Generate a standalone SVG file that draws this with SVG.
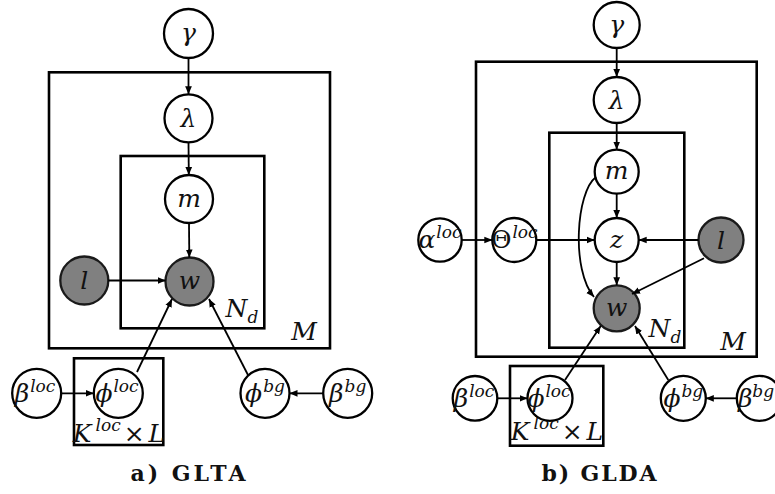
<svg xmlns="http://www.w3.org/2000/svg" width="775" height="494" viewBox="0 0 775 494">
<defs>
<marker id="ah" viewBox="0 0 10 10" refX="10" refY="5" markerWidth="8" markerHeight="8" orient="auto" markerUnits="userSpaceOnUse"><path d="M0,0.8 L10,5 L0,9.2 z" fill="#000"/></marker>
<style>
.n{fill:#fff;stroke:#000;stroke-width:2.3}
.o{fill:#808080;stroke:#1a1a1a;stroke-width:2.3}
.p{fill:none;stroke:#000;stroke-width:2.6}
.e{fill:none;stroke:#000;stroke-width:1.8;marker-end:url(#ah)}
.t{font-family:"DejaVu Serif","Liberation Serif",serif;font-style:italic;font-size:25px;fill:#111;text-anchor:middle}
.s{font-size:17px}
.up{font-style:normal}
.ti{font-family:"DejaVu Serif","Liberation Serif",serif;font-weight:bold;font-size:22px;fill:#111;text-anchor:middle}
</style>
</defs>

<!-- ===== Panel a) GLTA ===== -->
<g id="a-plates">
<rect class="p" x="49" y="72.3" width="281" height="276"/>
<rect class="p" x="120.7" y="156" width="143.6" height="172.3"/>
<rect class="p" x="74" y="358.3" width="89.3" height="86.7"/>
<text class="t" x="304" y="340">M</text>
<text class="t" x="242" y="316.7">N<tspan class="s" dy="6">d</tspan></text>
<text class="t" x="119" y="441.5">K<tspan class="s" dx="4" dy="-11">loc</tspan><tspan dx="3" dy="11" class="up">×</tspan><tspan dx="4">L</tspan></text>
</g>
<g id="a-gamma"><circle class="n" cx="188.5" cy="33.5" r="24.5"/><text class="t" x="188.5" y="41">γ</text></g>
<g id="a-lambda"><circle class="n" cx="188.5" cy="118.3" r="24"/><text class="t" x="188.5" y="127">λ</text></g>
<g id="a-m"><circle class="n" cx="189" cy="199" r="24"/><text class="t" x="189" y="206.5">m</text></g>
<g id="a-w"><circle class="o" cx="189.5" cy="281.5" r="24"/><text class="t" x="189.5" y="289">w</text></g>
<g id="a-l"><circle class="o" cx="84.3" cy="280.5" r="24"/><text class="t" x="84.3" y="289">l</text></g>
<g id="a-betaloc"><circle class="n" cx="36.7" cy="393.3" r="24.5"/><text class="t" x="35" y="402">β<tspan class="s" dx="1" dy="-10">loc</tspan></text></g>
<g id="a-philoc"><circle class="n" cx="118.3" cy="393.3" r="24.5"/><text class="t" x="117" y="402">ϕ<tspan class="s" dx="1" dy="-10">loc</tspan></text></g>
<g id="a-phibg"><circle class="n" cx="265" cy="393.3" r="24.5"/><text class="t" x="265" y="402">ϕ<tspan class="s" dx="1" dy="-10">bg</tspan></text></g>
<g id="a-betabg"><circle class="n" cx="347.7" cy="393.3" r="24.5"/><text class="t" x="347.7" y="402">β<tspan class="s" dx="1" dy="-10">bg</tspan></text></g>
<text class="ti" x="188" y="481" textLength="115" lengthAdjust="spacing">a) GLTA</text>

<g id="a-edges">
<line class="e" x1="188.5" y1="58" x2="188.5" y2="94.3"/>
<line class="e" x1="188.5" y1="142.3" x2="188.8" y2="175"/>
<line class="e" x1="189" y1="223" x2="189.3" y2="257.5"/>
<line class="e" x1="108.3" y1="280.5" x2="165.5" y2="280.5"/>
<line class="e" x1="137" y1="372" x2="172" y2="299"/>
<line class="e" x1="248" y1="375" x2="209" y2="299"/>
<line class="e" x1="61.2" y1="393.3" x2="93.8" y2="393.3"/>
<line class="e" x1="323.2" y1="393.3" x2="289.5" y2="393.3"/>
</g>

<!-- ===== Panel b) GLDA ===== -->
<g id="b-plates">
<rect class="p" x="476" y="61.7" width="280.7" height="295"/>
<rect class="p" x="549.3" y="132.7" width="135" height="215"/>
<rect class="p" x="510" y="366" width="93.3" height="79.7"/>
<text class="t" x="733" y="350">M</text>
<text class="t" x="665" y="336.7">N<tspan class="s" dy="6">d</tspan></text>
<text class="t" x="557" y="440">K<tspan class="s" dx="4" dy="-11">loc</tspan><tspan dx="3" dy="11" class="up">×</tspan><tspan dx="4">L</tspan></text>
</g>
<g id="b-gamma"><circle class="n" cx="616.7" cy="25" r="23"/><text class="t" x="616.7" y="32.5">γ</text></g>
<g id="b-lambda"><circle class="n" cx="616.7" cy="100" r="23"/><text class="t" x="616.7" y="108.5">λ</text></g>
<g id="b-m"><circle class="n" cx="616.7" cy="171.7" r="22"/><text class="t" x="616.7" y="179">m</text></g>
<g id="b-z"><circle class="n" cx="616.7" cy="240" r="22"/><text class="t" x="616.7" y="247.5">z</text></g>
<g id="b-w"><circle class="o" cx="616.7" cy="308.3" r="23"/><text class="t" x="616.7" y="316">w</text></g>
<g id="b-l"><circle class="o" cx="721" cy="240" r="22.5"/><text class="t" x="721" y="248.5">l</text></g>
<g id="b-alphaloc"><circle class="n" cx="440" cy="240" r="21.7"/><text class="t" x="440" y="248">α<tspan class="s" dx="1" dy="-10">loc</tspan></text></g>
<g id="b-thetaloc"><circle class="n" cx="514.3" cy="240" r="22"/><text class="t" x="514.3" y="248"><tspan class="up">Θ</tspan><tspan class="s" dx="1" dy="-10">loc</tspan></text></g>
<g id="b-betaloc"><circle class="n" cx="475" cy="398.3" r="22.3"/><text class="t" x="474" y="407">β<tspan class="s" dx="1" dy="-10">loc</tspan></text></g>
<g id="b-philoc"><circle class="n" cx="550" cy="398.3" r="22.5"/><text class="t" x="549" y="407">ϕ<tspan class="s" dx="1" dy="-10">loc</tspan></text></g>
<g id="b-phibg"><circle class="n" cx="683.3" cy="398.3" r="22.5"/><text class="t" x="683.3" y="407">ϕ<tspan class="s" dx="1" dy="-10">bg</tspan></text></g>
<g id="b-betabg"><circle class="n" cx="759.3" cy="398.3" r="22.5"/><text class="t" x="756" y="407" font-size="24">β<tspan class="s" dy="-10" font-size="15">bg</tspan></text></g>
<text class="ti" x="599" y="481" textLength="115" lengthAdjust="spacing">b) GLDA</text>

<g id="b-edges">
<line class="e" x1="616.7" y1="48" x2="616.7" y2="77"/>
<line class="e" x1="616.7" y1="123" x2="616.7" y2="149.7"/>
<line class="e" x1="616.7" y1="193.7" x2="616.7" y2="218"/>
<line class="e" x1="616.7" y1="262" x2="616.7" y2="285.3"/>
<line class="e" x1="461.7" y1="240" x2="492.3" y2="240"/>
<line class="e" x1="536.3" y1="240" x2="594.7" y2="240"/>
<line class="e" x1="698.5" y1="240" x2="638.7" y2="240"/>
<line class="e" x1="704" y1="258.3" x2="632" y2="294"/>
<path class="e" d="M596,177 C576,192 571,270 594,297"/>
<line class="e" x1="565" y1="380" x2="600.7" y2="326"/>
<line class="e" x1="668.3" y1="380" x2="635" y2="326"/>
<line class="e" x1="497.3" y1="398.3" x2="527.5" y2="398.3"/>
<line class="e" x1="736.8" y1="398.3" x2="705.8" y2="398.3"/>
</g>
</svg>
